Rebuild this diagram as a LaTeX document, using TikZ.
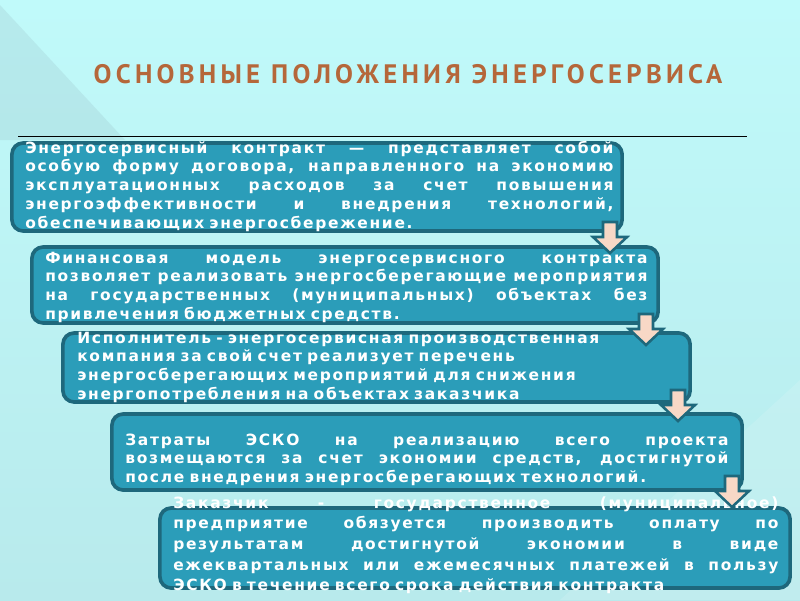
\documentclass[tikz,border=0pt]{standalone}
\usepackage{fontspec}
\setmainfont{DejaVu Sans}
\newfontfamily\boxfont[LetterSpace=11]{DejaVu Sans}
\newfontfamily\titlefont[LetterSpace=16]{PT Sans}
\definecolor{bgtop}{RGB}{192,250,250}
\definecolor{bgmid}{RGB}{162,206,212}
\definecolor{bgbot}{RGB}{184,234,236}
\definecolor{bgshade}{RGB}{160,200,206}
\definecolor{boxfill}{RGB}{43,157,185}
\definecolor{boxline}{RGB}{30,104,124}
\definecolor{arrfill}{RGB}{248,216,198}
\definecolor{titlecol}{RGB}{181,103,58}
% one justified line: spaces stretch to the full width
\newcommand\jl[1]{\leavevmode\hbox to\hsize{\spaceskip=0.35em plus 1fil\relax #1}}
\tikzset{
  infobox/.style={draw=boxline, line width=2.6pt, fill=boxfill, rounded corners=8pt, inner sep=0pt},
  infotext/.style={anchor=base west, inner sep=0pt, text=white, align=left,
    font=\boxfont\bfseries\fontsize{11}{13.5}\selectfont},
  titletext/.style={anchor=base, inner sep=0pt, text=titlecol, font=\titlefont\bfseries\fontsize{19}{22}\selectfont},
  downarr/.pic={\draw[draw=boxline, line width=1.8pt, fill=arrfill, line join=miter]
    (-7,0) -- (7,0) -- (7,15) -- (17,15) -- (0,31) -- (-17,15) -- (-7,15) -- cycle;}
}
\begin{document}
\begin{tikzpicture}[x=0.025cm, y=-0.025cm]
\useasboundingbox (0,0) rectangle (800,600);
\shade[top color=bgtop, middle color=bgmid, bottom color=bgbot] (0,0) rectangle (800,600);
\fill[bgshade, opacity=0.3] (0,5) -- (125,140) -- (0,140) -- cycle;
\fill[white, opacity=0.12] (800,380) -- (800,600) -- (560,600) -- cycle;

\node[titletext] (title) at (408,83) {ОСНОВНЫЕ ПОЛОЖЕНИЯ ЭНЕРГОСЕРВИСА};
\draw[black, line width=0.6pt] (18,136) -- (747,136);

% boxes
\node[infobox, minimum width=15.25cm, minimum height=2.2cm] (b1) at (317,187) {};
\node[infobox, minimum width=15.65cm, minimum height=1.9cm] (b2) at (345,285) {};
\node[infobox, minimum width=15.675cm, minimum height=1.725cm] (b3) at (376.5,367.5) {};
\node[infobox, minimum width=15.75cm, minimum height=1.9cm] (b4) at (427,452) {};
\node[infobox, minimum width=15.75cm, minimum height=2cm] (b5) at (475,548) {};

\node[infotext, text width=14.7cm] (t1) at (25,153) {\jl{Энергосервисный контракт — представляет собой}\\
  \jl{особую форму договора, направленного на экономию}\\
  \jl{эксплуатационных расходов за счет повышения}\\
  \jl{энергоэффективности и внедрения технологий,}\\
  обеспечивающих энергосбережение.};
\node[infotext, text width=15.05cm] (t2) at (45,263) {\jl{Финансовая модель энергосервисного контракта}\\
  \jl{позволяет реализовать энергосберегающие мероприятия}\\
  \jl{на государственных (муниципальных) объектах без}\\
  привлечения бюджетных средств.};
\node[infotext, text width=15.2cm] (t3) at (77,343) {Исполнитель - энергосервисная производственная\\
  компания за свой счет реализует перечень\\
  энергосберегающих мероприятий для снижения\\
  энергопотребления на объектах заказчика};
\node[infotext, text width=15.075cm] (t4) at (125,445) {\jl{Затраты ЭСКО на реализацию всего проекта}\\
  \jl{возмещаются за счет экономии средств, достигнутой}\\
  после внедрения энергосберегающих технологий.};
\node[infotext, text width=15.125cm, font=\boxfont\bfseries\fontsize{11}{14.7}\selectfont] (t5) at (173,508) {\jl{Заказчик - государственное (муниципальное)}\\
  \jl{предприятие обязуется производить оплату по}\\
  \jl{результатам достигнутой экономии в виде}\\
  \jl{ежеквартальных или ежемесячных платежей в пользу}\\
  ЭСКО в течение всего срока действия контракта};

% arrows between the boxes
\pic at (610,222) {downarr};
\pic at (646,314) {downarr};
\pic at (678,390) {downarr};
\pic at (732,476) {downarr};
\end{tikzpicture}
\end{document}
